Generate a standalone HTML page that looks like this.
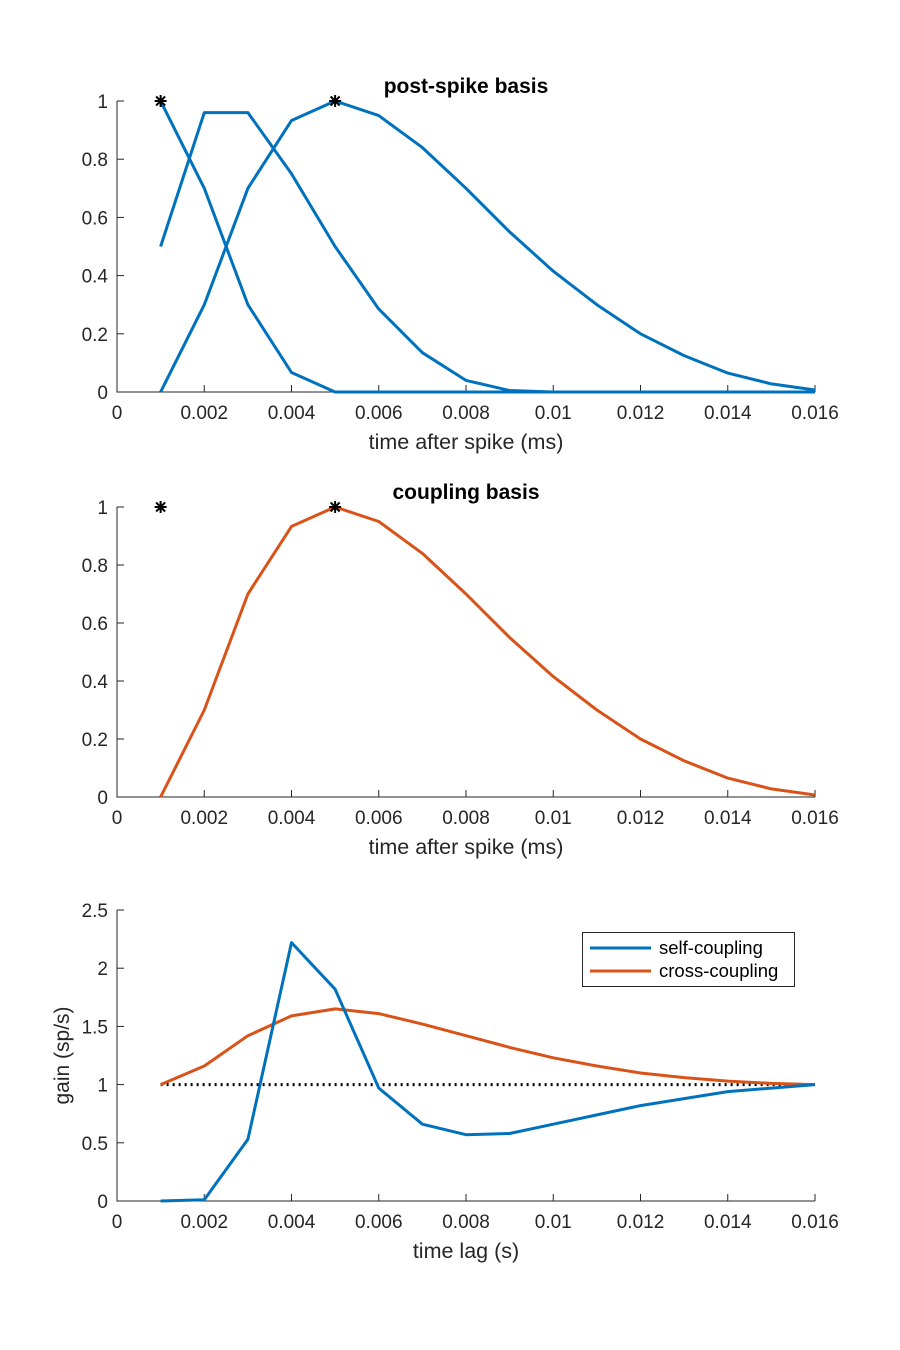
<!DOCTYPE html>
<html><head><meta charset="utf-8"><style>
body{margin:0;background:#fff;}
svg{display:block;font-family:"Liberation Sans",Arial,sans-serif;}
</style></head><body>
<svg id="fig" width="900" height="1350" viewBox="0 0 900 1350"></svg>
<script>
const xs=[0.001,0.002,0.003,0.004,0.005,0.006,0.007,0.008,0.009,0.010,0.011,0.012,0.013,0.014,0.015,0.016];
const basis1=[1,0.7,0.3,0.067,0,0,0,0,0,0,0,0,0,0,0,0];
const basis2=[0.5,0.96,0.96,0.75,0.5,0.285,0.135,0.04,0.005,0,0,0,0,0,0,0];
const basis3=[0,0.3,0.7,0.933,1,0.95,0.84,0.70,0.55,0.415,0.3,0.2,0.125,0.065,0.028,0.007];
const coupling=[0,0.3,0.7,0.933,1,0.95,0.84,0.70,0.55,0.415,0.3,0.2,0.125,0.065,0.028,0.007];
const selfGain=[0,0.01,0.53,2.22,1.82,0.97,0.66,0.57,0.58,0.66,0.74,0.82,0.88,0.94,0.97,1.0];
const crossGain=[1.0,1.16,1.42,1.59,1.65,1.61,1.52,1.42,1.32,1.23,1.16,1.1,1.06,1.03,1.01,1.0];
const starX=[0.001,0.005];
const starY=[1,1];
const xTicks=[0,0.002,0.004,0.006,0.008,0.01,0.012,0.014,0.016];
const xTickLabels=["0","0.002","0.004","0.006","0.008","0.01","0.012","0.014","0.016"];
const yTicks1=[0,0.2,0.4,0.6,0.8,1];
const yTickLabels1=["0","0.2","0.4","0.6","0.8","1"];
const yTicks3=[0,0.5,1,1.5,2,2.5];
const yTickLabels3=["0","0.5","1","1.5","2","2.5"];
const BLUE="#0072BD",ORANGE="#D95319";
const svg=document.getElementById('fig');
const NS="http://www.w3.org/2000/svg";
function mk(tag,attrs,parent){const e=document.createElementNS(NS,tag);for(const k in attrs)e.setAttribute(k,attrs[k]);(parent||svg).appendChild(e);return e;}
function axes(id,top,bottom,ymax,yT,yL,title,xlabel,ylabel){
  const x0=117,x1=815;
  const sx=v=>x0+v/0.016*(x1-x0);
  const sy=v=>bottom-v/ymax*(bottom-top);
  const g=mk('g',{});
  
  
  const ax=mk('path',{d:`M${x0},${top}V${bottom}H${x1}`,stroke:'#262626','stroke-width':1,fill:'none'},g);
  
  xTicks.forEach((t,i)=>{
    const tk=mk('line',{x1:sx(t),x2:sx(t),y1:bottom,y2:bottom-7,stroke:'#262626'},g);
    
    const tx=mk('text',{x:sx(t),y:bottom+27,'text-anchor':'middle','font-size':19,fill:'#262626'},g);
    tx.textContent=xTickLabels[i];
    
  });
  yT.forEach((t,i)=>{
    const tk=mk('line',{x1:x0,x2:x0+7,y1:sy(t),y2:sy(t),stroke:'#262626'},g);
    
    const tx=mk('text',{x:x0-9,y:sy(t)+7,'text-anchor':'end','font-size':19,fill:'#262626'},g);
    tx.textContent=yL[i];
    
  });
  if(title){const t=mk('text',{x:466,y:top-8,'text-anchor':'middle','font-size':21,'font-weight':'bold',fill:'#000'},g);t.textContent=title;
    }
  const xl=mk('text',{x:466,y:bottom+57,'text-anchor':'middle','font-size':21.5,fill:'#262626'},g);xl.textContent=xlabel;
  
  if(ylabel){const yl=mk('text',{x:0,y:0,'text-anchor':'middle','font-size':21,fill:'#262626',transform:`translate(69,${(top+bottom)/2}) rotate(-90)`},g);yl.textContent=ylabel;
    }
  return {g,sx,sy};
}
function line(ax,ys,color,name){
  const d=xs.map((x,i)=>(i?'L':'M')+ax.sx(x).toFixed(1)+','+ax.sy(ys[i]).toFixed(1)).join('');
  const p=mk('path',{d,stroke:color,'stroke-width':3,fill:'none','stroke-linejoin':'round'},ax.g);
  
}
function stars(ax){
  starX.forEach((x,i)=>{
    const cx=ax.sx(x),cy=ax.sy(starY[i]);
    const s=mk('path',{d:`M${cx-6},${cy}H${cx+6}M${cx},${cy-6}V${cy+6}M${cx-4.5},${cy-4.5}L${cx+4.5},${cy+4.5}M${cx-4.5},${cy+4.5}L${cx+4.5},${cy-4.5}`,stroke:'#000','stroke-width':2},ax.g);
    
  });
}
const a1=axes('post-spike-basis-chart',101,392,1,yTicks1,yTickLabels1,'post-spike basis','time after spike (ms)');
line(a1,basis1,BLUE,'basis-1');line(a1,basis2,BLUE,'basis-2');line(a1,basis3,BLUE,'basis-3');stars(a1);
const a2=axes('coupling-basis-chart',507,797,1,yTicks1,yTickLabels1,'coupling basis','time after spike (ms)');
line(a2,coupling,ORANGE,'coupling-basis-line');stars(a2);
const a3=axes('gain-chart',910,1201,2.5,yTicks3,yTickLabels3,null,'time lag (s)','gain (sp/s)');
const ref=mk('line',{x1:a3.sx(0.001),x2:a3.sx(0.016),y1:a3.sy(1),y2:a3.sy(1),stroke:'#000','stroke-width':3,'stroke-dasharray':'2 4'},a3.g);

line(a3,crossGain,ORANGE,'cross-coupling-line');
line(a3,selfGain,BLUE,'self-coupling-line');
const lg=mk('g',{},a3.g);
mk('rect',{x:582.5,y:932.5,width:212,height:54,fill:'#fff',stroke:'#262626'},lg);
[['self-coupling',BLUE,948],['cross-coupling',ORANGE,971]].forEach(([t,c,y])=>{
  const e=mk('g',{},lg);
  mk('line',{x1:590,x2:651,y1:y,y2:y,stroke:c,'stroke-width':3},e);
  const tx=mk('text',{x:659,y:y+6,'font-size':18.5,fill:'#000'},e);tx.textContent=t;
});
</script>
</body></html>
